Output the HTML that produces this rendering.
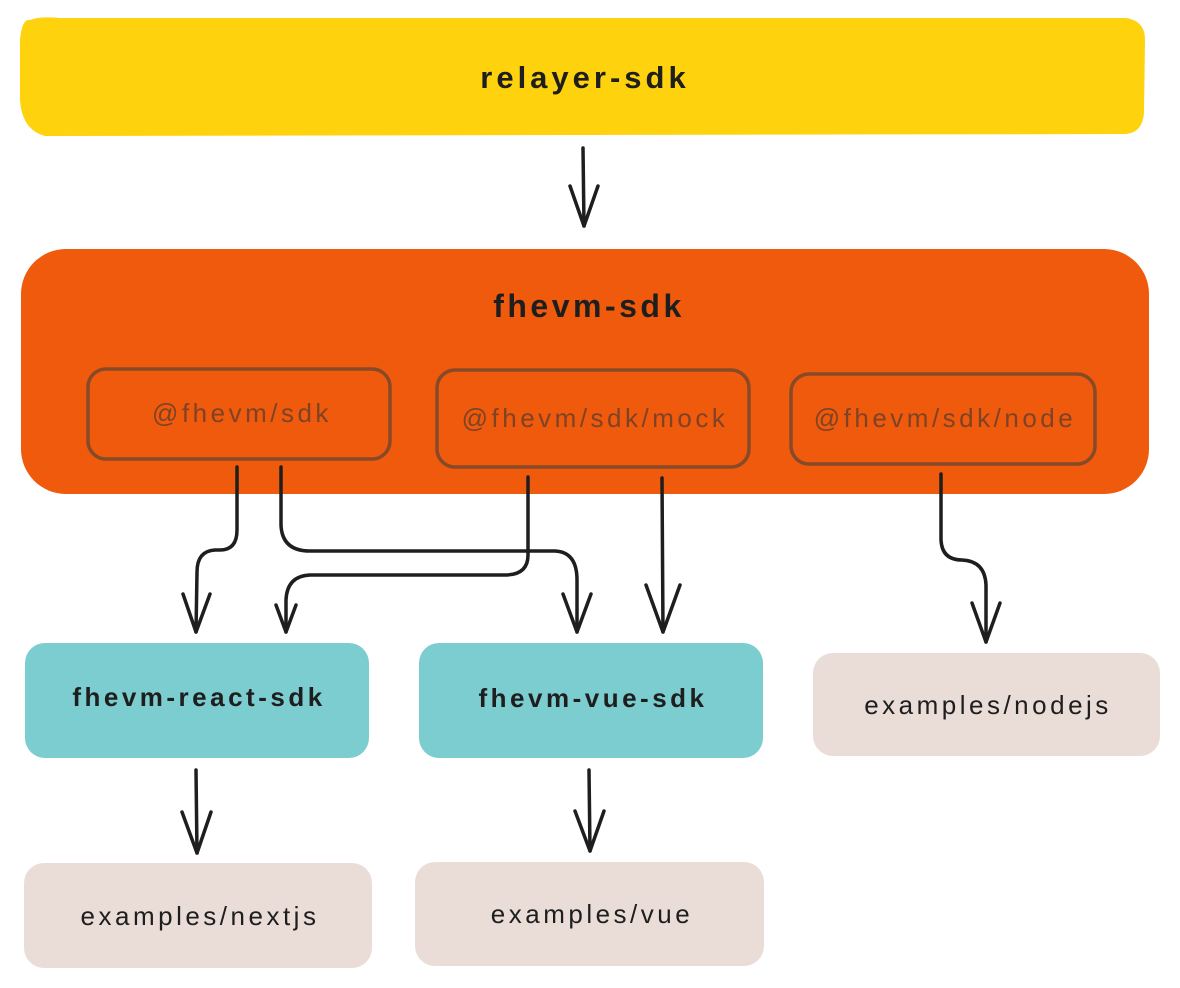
<!DOCTYPE html>
<html><head><meta charset="utf-8"><style>
html,body{margin:0;padding:0;background:#fff;width:1180px;height:988px;overflow:hidden}
text{font-family:"Liberation Sans",sans-serif}
</style></head><body>
<svg width="1180" height="988" viewBox="0 0 1180 988" xmlns="http://www.w3.org/2000/svg">
<!-- relayer-sdk -->
<path d="M30 20 Q40 16 60 18 L1125 18 Q1145 20 1145 40 L1144 112 Q1143 133 1125 134 L45 136 Q22 130 20 100 L20 40 Q22 18 30 20 Z" fill="#fed20c"/>
<text x="585" y="88" font-size="31" font-weight="bold" letter-spacing="4" text-anchor="middle" fill="#1e1e1e">relayer-sdk</text>
<g stroke="#1e1e1e" stroke-width="3.5" fill="none" stroke-linecap="round" stroke-linejoin="round">
<path d="M583 148 L584 226"/><path d="M570 186 L584 226 L598 186"/>
</g>
<!-- fhevm-sdk -->
<rect x="21" y="249" width="1128" height="245" rx="45" fill="#f05a0c"/>
<text x="589" y="317" font-size="32" font-weight="bold" letter-spacing="3.5" text-anchor="middle" fill="#1e1e1e">fhevm-sdk</text>
<g fill="none" stroke="#874a29" stroke-width="3.5">
<rect x="88" y="369" width="302" height="90" rx="18"/>
<rect x="437" y="370" width="312" height="97" rx="18"/>
<rect x="791" y="374" width="304" height="90" rx="18"/>
</g>
<g font-size="26" fill="#7e4326" text-anchor="middle" letter-spacing="3.5">
<text x="242" y="422">@fhevm/sdk</text>
<text x="595" y="427">@fhevm/sdk/mock</text>
<text x="945" y="427">@fhevm/sdk/node</text>
</g>
<g stroke="#1e1e1e" stroke-width="3.5" fill="none" stroke-linecap="round" stroke-linejoin="round">
<path d="M237 467 L237 530 Q237 550 220 550 L215 550 Q197 551 197 572 L196 632"/>
<path d="M183 594 L196 632 L210 594"/>
<path d="M281 467 L281 525 Q282 551 310 551 L555 551 Q577 552 577 580 L577 632"/>
<path d="M563 594 L577 632 L591 594"/>
<path d="M528 477 L528 555 Q528 575 505 575 L310 575 Q287 576 286 600 L286 632"/>
<path d="M276 605 L286 632 L296 605"/>
<path d="M662 478 L663 632"/>
<path d="M646 585 L663 632 L680 585"/>
<path d="M941 474 L941 540 Q942 560 962 560 Q985 561 986 585 L986 642"/>
<path d="M972 603 L986 642 L1000 603"/>
<path d="M196 770 L197 853"/><path d="M182 812 L197 853 L211 812"/>
<path d="M589 770 L590 851"/><path d="M575 811 L590 851 L604 811"/>
</g>
<rect x="25" y="643" width="344" height="115" rx="20" fill="#7ccdd0"/>
<rect x="419" y="643" width="344" height="115" rx="20" fill="#7ccdd0"/>
<rect x="813" y="653" width="347" height="103" rx="20" fill="#eaddd8"/>
<rect x="24" y="863" width="348" height="105" rx="20" fill="#eaddd8"/>
<rect x="415" y="862" width="349" height="104" rx="20" fill="#eaddd8"/>
<g font-size="26" fill="#1e1e1e" text-anchor="middle" letter-spacing="3.5">
<text x="199" y="706" font-weight="bold">fhevm-react-sdk</text>
<text x="593" y="707" font-weight="bold">fhevm-vue-sdk</text>
<text x="988" y="714">examples/nodejs</text>
<text x="200" y="925">examples/nextjs</text>
<text x="592" y="923">examples/vue</text>
</g>
</svg>
</body></html>
